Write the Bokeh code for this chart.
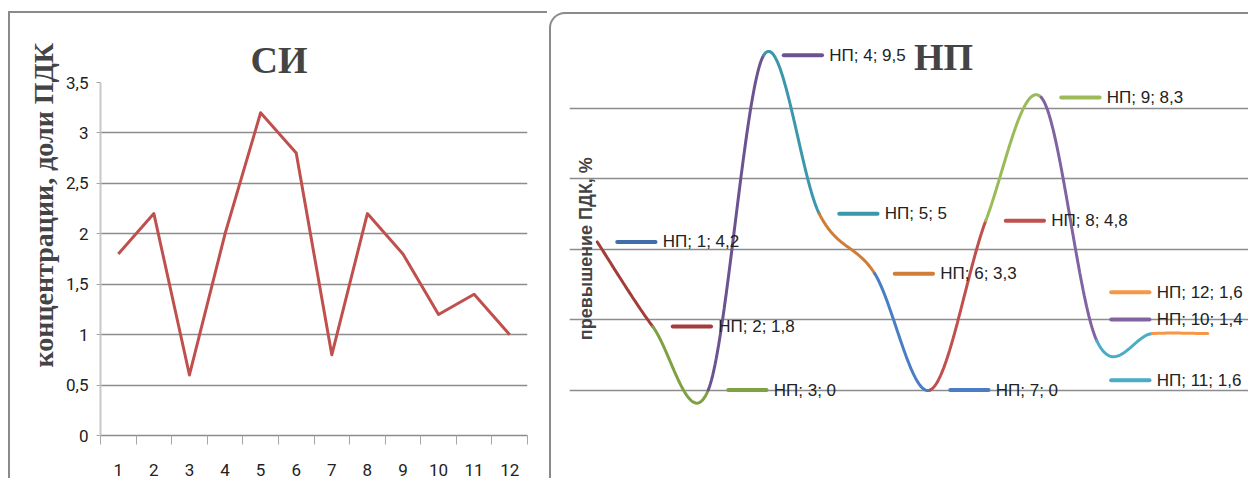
import numpy as np
from bokeh.plotting import figure
from bokeh.core.properties import value
from bokeh.models import (FixedTicker, CustomJSTickFormatter, Label, LabelSet,
                          ColumnDataSource, Range1d, Grid, Title)
from bokeh.embed import file_html
from bokeh.resources import INLINE

# ---------------- data ----------------
si_title = "СИ"
si_ylabel = "концентрации, доли ПДК"
si_months = list(range(1, 13))
si_values = [1.8, 2.2, 0.6, 2.0, 3.2, 2.8, 0.8, 2.2, 1.8, 1.2, 1.4, 1.0]
si_yticks = [0, 0.5, 1, 1.5, 2, 2.5, 3, 3.5]

np_title = "НП"
np_ylabel = "превышение ПДК, %"
np_points = list(range(1, 13))
np_values = [4.2, 1.8, 0, 9.5, 5, 3.3, 0, 4.8, 8.3, 1.4, 1.6, 1.6]
np_gridlines = [-2, 0, 2, 4, 6, 8, 10]
np_colors = ["#3F6EA8", "#A23D3A", "#7FA043", "#6B5390", "#3A97AC", "#D07E35",
             "#4A7EC4", "#C0504D", "#9BBB59", "#8064A2", "#4BACC6", "#F79646"]

# label placement (manually moved labels for the last three points)
label_y_override = {10: 2.0, 11: 0.28, 12: 2.77}
label_x_fixed = 10.26

GRID = "#8C8C8C"
TICK_FONT = "Roboto"
LABEL_FONT = "Liberation Sans"
BORDER = "2px solid #8a8a8a"

# ---------------- left chart ----------------
left = figure(width=539, height=467, x_range=Range1d(0.5, 12.5), y_range=Range1d(0, 3.5),
              output_backend="svg", toolbar_location=None,
              min_border_left=90, min_border_right=22, min_border_top=69, min_border_bottom=45)
left.outline_line_color = None
left.xgrid.visible = False
left.ygrid.ticker = FixedTicker(ticks=si_yticks)
left.ygrid.grid_line_color = GRID
left.ygrid.grid_line_width = 1.3

xa = left.xaxis[0]
xa.ticker = FixedTicker(ticks=si_months, minor_ticks=[m - 0.5 for m in si_months] + [12.5])
xa.major_tick_out = 0
xa.major_tick_in = 0
xa.minor_tick_out = 9
xa.minor_tick_in = 0
xa.minor_tick_line_color = "#A6A6A6"
xa.axis_line_color = GRID
xa.axis_line_width = 1.3
xa.major_label_standoff = 19
xa.major_label_text_font = TICK_FONT
xa.major_label_text_font_size = "17px"
xa.major_label_text_color = "#222222"

ya = left.yaxis[0]
ya.ticker = FixedTicker(ticks=si_yticks)
ya.formatter = CustomJSTickFormatter(code="return String(tick).replace('.', ',');")
ya.major_tick_out = 4
ya.major_tick_in = 0
ya.minor_tick_out = 0
ya.minor_tick_in = 0
ya.major_tick_line_color = "#A6A6A6"
ya.axis_line_color = "#C8C8C8"
ya.axis_line_width = 2
ya.major_label_standoff = 8
ya.major_label_text_font = TICK_FONT
ya.major_label_text_font_size = "17px"
ya.major_label_text_color = "#222222"

left.line(si_months, si_values, line_color="#C0504D", line_width=3, line_join="round")

left.add_layout(Title(text=si_title, align="left", offset=150, text_font="Liberation Serif",
                      text_font_style="bold", text_font_size="38px", standoff=4), "above")
left.add_layout(Title(text=si_ylabel, align="left", offset=68,
                      text_font="Liberation Serif", text_font_style="bold",
                      text_font_size="28px", standoff=10), "left")
left.styles = {"position": "absolute", "left": "8px", "top": "11px",
               "border-left": BORDER, "border-top": BORDER}

# ---------------- right chart ----------------
right = figure(width=699, height=466, x_range=Range1d(0.5, 12.77), y_range=Range1d(-2, 10),
               output_backend="svg", toolbar_location=None,
               x_axis_location=None, y_axis_location=None,
               min_border_left=18, min_border_right=0, min_border_top=23, min_border_bottom=20)
right.outline_line_color = None
right.border_fill_color = None
right.background_fill_color = None
for g in list(right.center):
    if isinstance(g, Grid):
        g.visible = False
right.add_layout(Grid(dimension=1, ticker=FixedTicker(ticks=np_gridlines),
                      grid_line_color=GRID, grid_line_width=1.3))


def smooth_segments(x, y, n=50):
    x = np.asarray(x, float)
    y = np.asarray(y, float)
    xs, ys = [], []
    t = np.linspace(0, 1, n)
    for i in range(len(x) - 1):
        a = i - 1 if i > 0 else i
        b = i + 2 if i + 2 < len(x) else i + 1
        c1x = x[i] + (x[i + 1] - x[a]) / 6
        c1y = y[i] + (y[i + 1] - y[a]) / 6
        c2x = x[i + 1] - (x[b] - x[i]) / 6
        c2y = y[i + 1] - (y[b] - y[i]) / 6
        bx = (1 - t) ** 3 * x[i] + 3 * (1 - t) ** 2 * t * c1x + 3 * (1 - t) * t ** 2 * c2x + t ** 3 * x[i + 1]
        by = (1 - t) ** 3 * y[i] + 3 * (1 - t) ** 2 * t * c1y + 3 * (1 - t) * t ** 2 * c2y + t ** 3 * y[i + 1]
        xs.append(list(bx))
        ys.append(list(by))
    return xs, ys


sx, sy = smooth_segments(np_points, np_values)
right.multi_line(xs=sx, ys=sy, line_color=np_colors[1:], line_width=3, line_cap="round")

kx0, kx1, tx, ky, texts = [], [], [], [], []
for p, v in zip(np_points, np_values):
    yy = label_y_override.get(p, v)
    x0 = label_x_fixed if p in label_y_override else p + 0.36
    kx0.append(x0)
    kx1.append(x0 + 0.69)
    tx.append(x0 + 0.82)
    ky.append(yy)
    texts.append(f"{np_title}; {p}; " + f"{v:g}".replace(".", ","))

right.segment(x0=kx0, y0=ky, x1=kx1, y1=ky, line_color=np_colors, line_width=4, line_cap="round")
lab_src = ColumnDataSource(dict(x=tx, y=ky, text=texts))
right.add_layout(LabelSet(x="x", y="y", text="text", source=lab_src,
                          text_font=value(LABEL_FONT), text_font_size=value("17px"),
                          text_color="#222222",
                          text_align="left", text_baseline="middle"))

right.add_layout(Label(x=7.24, y=9.46, text=np_title, text_font="Liberation Serif",
                       text_font_style="bold", text_font_size="38px",
                       text_align="center", text_baseline="middle"))
right.add_layout(Label(x=0.79, y=4.01, text=np_ylabel, angle=np.pi / 2,
                       text_font="Liberation Sans", text_font_style="bold",
                       text_font_size="18px", text_align="center", text_baseline="middle"))
right.styles = {"position": "absolute", "left": "549px", "top": "12px",
                "border-left": BORDER, "border-top": BORDER,
                "border-top-left-radius": "16px"}

open("out.html", "w").write(file_html([left, right], INLINE))
